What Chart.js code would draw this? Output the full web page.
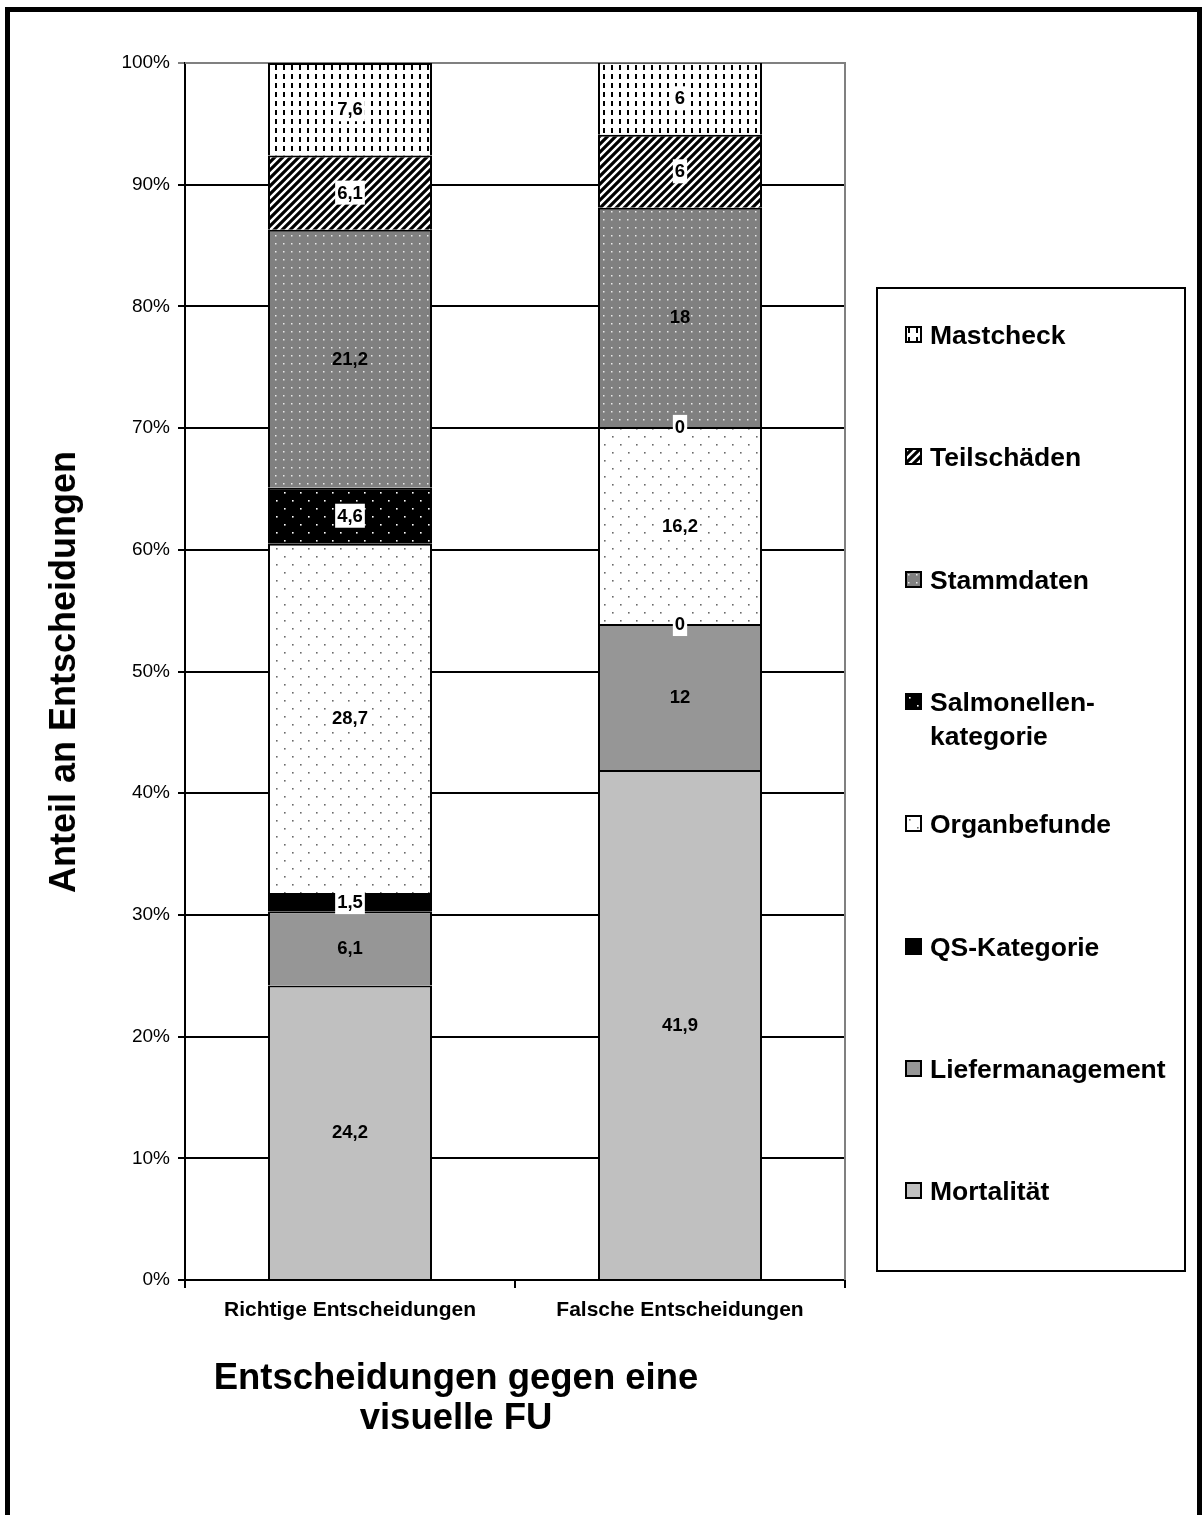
<!DOCTYPE html>
<html>
<head>
<meta charset="utf-8">
<script src="https://cdn.jsdelivr.net/npm/chart.js@4/dist/chart.umd.min.js"></script>
<style>
  html, body { margin: 0; padding: 0; background: #fff; }
  body { width: 1204px; height: 1515px; position: relative; overflow: hidden;
         font-family: "Liberation Sans", Arial, sans-serif; color: #000; }
  #frame { position: absolute; left: 5px; top: 7px; width: 1187px; height: 1600px; border: 5px solid #000; }
  #chartBox { position: absolute; left: 0; top: 0; width: 1204px; height: 1515px; }
  #yTitle { position: absolute; left: 63px; top: 672px; transform: translate(-50%, -50%) rotate(-90deg);
            font-weight: bold; font-size: 36px; white-space: nowrap; }
  #xTitle { position: absolute; left: 456px; top: 1357px; transform: translateX(-50%);
            font-weight: bold; font-size: 36.5px; line-height: 40px; text-align: center; white-space: nowrap; }
  #legend { position: absolute; left: 876px; top: 287px; width: 306px; height: 981px; border: 2px solid #000; }
  .legendItem { position: absolute; left: 52px; width: 250px; font-weight: bold; font-size: 26.5px; line-height: 34px; }
  .legendItem canvas { position: absolute; left: -25px; top: 8px; }
</style>
</head>
<body>
<div id="frame"></div>
<div id="chartBox"><canvas id="decisionChart" width="1204" height="1515"></canvas></div>
<div id="yTitle">Anteil an Entscheidungen</div>
<div id="xTitle">Entscheidungen gegen eine<br>visuelle FU</div>
<div id="legend"></div>

<script>
// --- Data ---
const categories = ['Richtige Entscheidungen', 'Falsche Entscheidungen'];
const seriesNames = ['Mortalität', 'Liefermanagement', 'QS-Kategorie', 'Organbefunde',
                     'Salmonellen-kategorie', 'Stammdaten', 'Teilschäden', 'Mastcheck'];
const mortalitaet      = [24.2, 41.9];
const liefermanagement = [6.1, 12];
const qsKategorie      = [1.5, 0];
const organbefunde     = [28.7, 16.2];
const salmonellen      = [4.6, 0];
const stammdaten       = [21.2, 18];
const teilschaeden     = [6.1, 6];
const mastcheck        = [7.6, 6];
const yTicks = [0, 10, 20, 30, 40, 50, 60, 70, 80, 90, 100];

const seriesValues = [mortalitaet, liefermanagement, qsKategorie, organbefunde,
                      salmonellen, stammdaten, teilschaeden, mastcheck];

// labels that sit on a white box
const labelBox = [false, false, true, true, true, false, true, true];

const FONT = '"Liberation Sans", Arial, sans-serif';

// --- Fill patterns (small tiles repeated over the bars) ---
function makeTile(w, h, draw) {
    const c = document.createElement('canvas');
    c.width = w; c.height = h;
    const t = c.getContext('2d');
    draw(t, w, h);
    return t.createPattern(c, 'repeat');
}

function dots(bg, fg, size, points) {
    return (t, w, h) => {
        t.fillStyle = bg;
        t.fillRect(0, 0, w, h);
        t.fillStyle = fg;
        points.forEach(([x, y]) => t.fillRect(x, y, size, size));
    };
}

const fills = [
    '#c0c0c0',
    '#969696',
    '#000000',
    makeTile(16, 16, dots('#ffffff', '#6a6a6a', 1.6, [[4, 4], [12, 12]])),
    makeTile(16, 16, dots('#000000', '#ffffff', 1.6, [[4, 4], [12, 12]])),
    makeTile(8, 8, dots('#808080', '#e8e8e8', 1.5, [[3, 3]])),
    makeTile(8, 8, (t, w, h) => {
        t.fillStyle = '#fff';
        t.fillRect(0, 0, w, h);
        t.strokeStyle = '#000';
        t.lineWidth = 3.2;
        t.beginPath();
        t.moveTo(-2, 10); t.lineTo(10, -2);
        t.moveTo(-6, 6); t.lineTo(6, -6);
        t.moveTo(2, 14); t.lineTo(14, 2);
        t.stroke();
    }),
    makeTile(8, 9, (t, w, h) => {
        t.fillStyle = '#fff';
        t.fillRect(0, 0, w, h);
        t.fillStyle = '#000';
        t.fillRect(3, 2, 2, 5);
    })
];

function formatValue(v) {
    return String(v).replace('.', ',');
}

// --- Plugins ---
const plotBorder = {
    id: 'plotBorder',
    beforeDatasetsDraw(chart) {
        const { ctx, chartArea } = chart;
        ctx.save();
        ctx.strokeStyle = '#808080';
        ctx.lineWidth = 2;
        ctx.beginPath();
        ctx.moveTo(chartArea.left, chartArea.top);
        ctx.lineTo(chartArea.right, chartArea.top);
        ctx.lineTo(chartArea.right, chartArea.bottom);
        ctx.stroke();
        ctx.restore();
    }
};

const valueLabels = {
    id: 'valueLabels',
    afterDatasetsDraw(chart) {
        const ctx = chart.ctx;
        ctx.save();
        ctx.font = 'bold 18.5px ' + FONT;
        ctx.textAlign = 'center';
        ctx.textBaseline = 'middle';
        chart.data.datasets.forEach((ds, i) => {
            chart.getDatasetMeta(i).data.forEach((bar, j) => {
                const text = formatValue(ds.data[j]);
                const y = (bar.y + bar.base) / 2;
                if (labelBox[i]) {
                    const w = ctx.measureText(text).width + 4;
                    ctx.fillStyle = '#fff';
                    ctx.fillRect(bar.x - w / 2, y - 12, w, 24);
                }
                ctx.fillStyle = '#000';
                ctx.fillText(text, bar.x, y + 1);
            });
        });
        ctx.restore();
    }
};

// --- Chart ---
const datasets = seriesNames.map((name, i) => ({
    label: name,
    data: seriesValues[i],
    backgroundColor: fills[i],
    borderColor: '#000',
    borderWidth: 2,
    barPercentage: 0.497,
    categoryPercentage: 1
}));

new Chart(document.getElementById('decisionChart'), {
    type: 'bar',
    data: { labels: categories, datasets },
    options: {
        responsive: false,
        animation: false,
        layout: { padding: { left: 0, top: 63, right: 359, bottom: 175 } },
        plugins: { legend: { display: false }, tooltip: { enabled: false } },
        scales: {
            x: {
                stacked: true,
                afterFit: s => { s.height = 60; },
                grid: { drawOnChartArea: false, drawTicks: true, tickLength: 8, color: '#000', lineWidth: 2 },
                border: { color: '#000', width: 2 },
                ticks: { color: '#000', maxRotation: 0, padding: 10, font: { family: FONT, size: 21, weight: 'bold' } }
            },
            y: {
                stacked: true,
                min: 0,
                max: 100,
                afterFit: s => { s.width = 185; },
                afterBuildTicks: s => { s.ticks = yTicks.map(v => ({ value: v })); },
                grid: {
                    color: c => (c.tick && c.tick.value === 100 ? '#808080' : '#000'),
                    lineWidth: 2,
                    tickLength: 7
                },
                border: { color: '#000', width: 2 },
                ticks: { color: '#000', padding: 8, font: { family: FONT, size: 19 }, callback: v => v + '%' }
            }
        }
    },
    plugins: [plotBorder, valueLabels]
});

// --- Legend (top series first) ---
const legendEl = document.getElementById('legend');
seriesNames.slice().reverse().forEach((name, k) => {
    const i = seriesNames.length - 1 - k;
    const item = document.createElement('div');
    item.className = 'legendItem';
    item.style.top = (335 + k * 122.3 - 287 - 2 - 17) + 'px';
    const sw = document.createElement('canvas');
    sw.width = 17; sw.height = 17;
    const sctx = sw.getContext('2d');
    sctx.fillStyle = fills[i];
    sctx.fillRect(0, 0, 17, 17);
    sctx.strokeStyle = '#000';
    sctx.lineWidth = 2;
    sctx.strokeRect(1, 1, 15, 15);
    item.appendChild(sw);
    item.appendChild(document.createTextNode(name));
    legendEl.appendChild(item);
});
</script>
</body>
</html>
